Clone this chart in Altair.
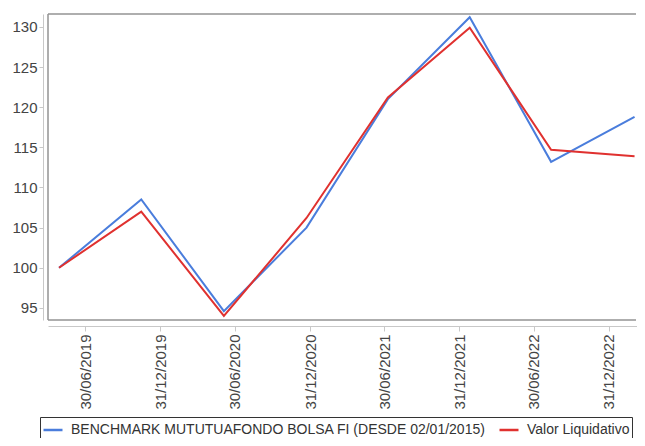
import altair as alt
import pandas as pd

# ---- data ----
dates = ["2019-04-27", "2019-11-14", "2020-06-03", "2020-12-22",
         "2021-07-09", "2022-01-25", "2022-08-12", "2023-03-04"]
benchmark = [100.0, 108.5, 94.6, 105.0, 121.0, 131.2, 113.2, 118.8]
valor = [100.0, 107.0, 94.0, 106.2, 121.2, 129.9, 114.7, 113.9]
series_names = ["BENCHMARK MUTUTUAFONDO BOLSA FI (DESDE 02/01/2015)", "Valor Liquidativo"]
series_colors = ["#4a7ddc", "#e0312f"]
tick_dates = [(2019, 6, 30), (2019, 12, 31), (2020, 6, 30), (2020, 12, 31),
              (2021, 6, 30), (2021, 12, 31), (2022, 6, 30), (2022, 12, 31)]
y_ticks = [95, 100, 105, 110, 115, 120, 125, 130]

rows = []
for d, v in zip(dates, benchmark):
    rows.append({"date": d, "value": v, "serie": series_names[0]})
for d, v in zip(dates, valor):
    rows.append({"date": d, "value": v, "serie": series_names[1]})
df = pd.DataFrame(rows)
frame_df = pd.DataFrame({"k": [0]})

W, H = 589, 306

x_scale = alt.Scale(
    type="utc",
    domain=[alt.DateTime(year=2019, month=3, date=31, utc=True),
            alt.DateTime(year=2023, month=3, date=10, utc=True)],
)
y_scale = alt.Scale(domain=[93.5, 131.6], nice=False, zero=False)

lines = alt.Chart(df).mark_line(strokeWidth=2).encode(
    x=alt.X(
        "date:T",
        scale=x_scale,
        axis=alt.Axis(
            values=[alt.DateTime(year=y, month=m, date=d, utc=True) for (y, m, d) in tick_dates],
            labelExpr="utcFormat(datum.value, '%d/%m/%Y')",
            labelAngle=270,
            title=None,
            grid=False,
            offset=6,
            tickSize=5,
            labelPadding=3,
            labelFontSize=15,
            labelFont="Liberation Sans",
            labelColor="#444444",
            domainColor="#c8c8c8",
            tickColor="#c8c8c8",
            labelOverlap=False,
        ),
    ),
    y=alt.Y(
        "value:Q",
        scale=y_scale,
        axis=alt.Axis(
            values=y_ticks,
            title=None,
            grid=False,
            offset=5,
            tickSize=4,
            labelPadding=2,
            labelFontSize=15,
            labelFont="Liberation Sans",
            labelColor="#444444",
            domainColor="#c8c8c8",
            tickColor="#c8c8c8",
        ),
    ),
    color=alt.Color(
        "serie:N",
        scale=alt.Scale(domain=series_names, range=series_colors),
        legend=alt.Legend(
            title=None,
            orient="none",
            legendX=-8,
            legendY=403,
            direction="horizontal",
            strokeColor="#333333",
            fillColor="#ffffff",
            padding=2,
            symbolType="stroke",
            symbolSize=361,
            symbolStrokeWidth=2.5,
            labelFont="Liberation Sans",
            labelFontSize=14,
            labelColor="#333333",
            labelOffset=7,
            labelLimit=0,
            columnPadding=8,
        ),
    ),
    order=alt.Order("serie:N", sort="ascending"),
)

frame_color = "#939393"
top_rule = alt.Chart(frame_df).mark_rule(color=frame_color, strokeWidth=1.5, strokeCap="butt").encode(
    x=alt.value(0), x2=alt.value(W - 1), y=alt.value(0)
)
left_rule = alt.Chart(frame_df).mark_rule(color=frame_color, strokeWidth=1.5, strokeCap="butt").encode(
    x=alt.value(0), y=alt.value(0), y2=alt.value(H)
)
bottom_rule = alt.Chart(frame_df).mark_rule(color=frame_color, strokeWidth=1.5, strokeCap="butt").encode(
    x=alt.value(0), x2=alt.value(W - 1), y=alt.value(H)
)

chart = alt.layer(top_rule, left_rule, bottom_rule, lines).properties(
    width=W,
    height=H,
    autosize=alt.AutoSizeParams(type="none"),
    padding={"left": 40, "top": 6, "right": 0, "bottom": 118},
).configure_view(strokeWidth=0, strokeOpacity=0, stroke="#ffffff")

chart.save("out.html", embed_options={"renderer": "svg", "actions": False})
